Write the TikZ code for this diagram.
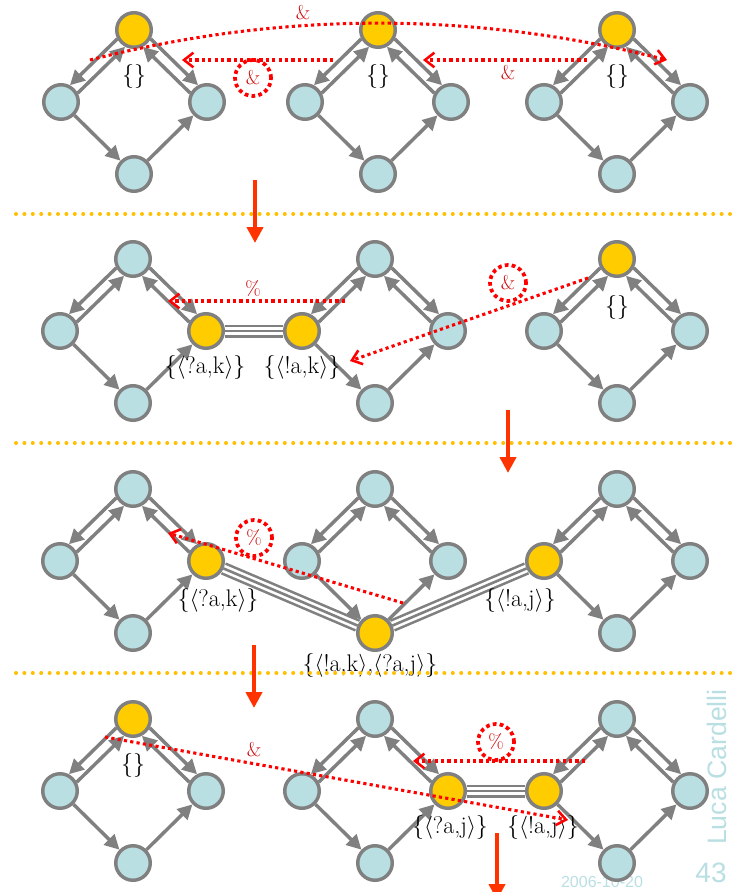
\documentclass[tikz,border=0pt]{standalone}
\usepackage{fontspec}
\usepackage{tikz}
\usetikzlibrary{arrows.meta,backgrounds,positioning}
\newfontfamily\wmfont{Liberation Sans}
\definecolor{ice}{RGB}{185,223,227}
\definecolor{gold}{RGB}{255,204,0}
\definecolor{rim}{RGB}{128,128,128}
\definecolor{msgred}{RGB}{255,0,0}
\definecolor{tagred}{RGB}{204,0,0}
\definecolor{flame}{RGB}{255,51,0}
\definecolor{sepgold}{RGB}{255,192,0}

\begin{document}
\begin{tikzpicture}[
  x=0.75pt,y=-0.75pt,
  site/.style={circle,draw=rim,line width=2.6pt,minimum size=25.9pt,inner sep=0pt},
  idle/.style={fill=ice},
  spot/.style={fill=gold},
  arr/.style={draw=rim,line width=2.6pt,-{Triangle[length=11pt,width=11pt]}},
  link/.style={draw=rim,line width=1.95pt,preaction={draw=rim,line width=9.75pt},preaction={draw=white,line width=5.85pt}},
  bag/.style={font=\fontsize{18}{21}\selectfont,inner sep=0pt},
  msg/.style={draw=msgred,line width=2.3pt,dash pattern=on 2.4pt off 2.4pt,-{Straight Barb[length=7pt,width=11pt,line width=1.9pt]}},
  ring/.style={circle,draw=msgred,line width=2.8pt,dash pattern=on 2.8pt off 2.4pt,minimum size=27pt,inner sep=0pt,text=tagred,font=\fontsize{15}{17}\selectfont},
  tag/.style={text=tagred,font=\fontsize{15}{17}\selectfont,inner sep=0pt},
  redux/.style={draw=flame,line width=3pt,-{Triangle[length=12pt,width=12pt]}},
  divider/.style={draw=sepgold,line width=3pt,line cap=round,dash pattern=on 0pt off 6.3pt},
  wm/.style={text=ice,inner sep=0pt},
]
\useasboundingbox (0,0) rectangle (732,892);

% Knoten der Rauten
\foreach \d/\x/\y/\sn/\sw/\se/\ss in {
  a1/134/30/spot/idle/idle/idle, b1/378/30/spot/idle/idle/idle, c1/617/30/spot/idle/idle/idle,
  a2/133/259/idle/idle/spot/idle, b2/375/259/idle/spot/idle/idle, c2/617/259/spot/idle/idle/idle,
  a3/133/489/idle/idle/spot/idle, b3/375/489/idle/idle/idle/spot, c3/617/489/idle/spot/idle/idle,
  a4/133/719/spot/idle/idle/idle, b4/375/719/idle/idle/spot/idle, c4/617/719/idle/spot/idle/idle}{
  \node[site,\sn] (n\d) at (\x,\y) {};
  \node[site,\sw] (w\d) at (\x-73,\y+72) {};
  \node[site,\se] (e\d) at (\x+73,\y+72) {};
  \node[site,\ss] (s\d) at (\x,\y+144) {};
}

% Kanten
\foreach \d in {a1,b1,c1,a2,b2,c2,a3,b3,c3,a4,b4,c4}{
  \draw[arr] (n\d.208) -- (w\d.62);
  \draw[arr] (w\d.28) -- (n\d.242);
  \draw[arr] (n\d.332) -- (e\d.118);
  \draw[arr] (e\d.152) -- (n\d.298);
  \draw[arr] (w\d) -- (s\d);
  \draw[arr] (s\d) -- (e\d);
}

% Verbindungen und Wasserzeichen
\begin{scope}[on background layer]
  \draw[link] (ea2) -- (wb2);
  \draw[link] (ea3) -- (sb3);
  \draw[link] (wc3) -- (sb3);
  \draw[link] (eb4) -- (wc4);
  \node[wm,rotate=90,font=\wmfont\fontsize{20}{24}\selectfont] (author) at (717,767) {Luca Cardelli};
  \node[wm,font=\wmfont\fontsize{21}{24}\selectfont] (page) at (711,873) {43};
  \node[wm,font=\wmfont\fontsize{12}{14}\selectfont] (date) at (602,882) {2006-10-20};
\end{scope}

% Mengen
\node[bag] (st1a) at (134,77) {\{\}};
\node[bag] (st1b) at (378,77) {\{\}};
\node[bag] (st1c) at (617,77) {\{\}};
\node[bag] (st2a) at (205,367) {\{$\langle$?a,k$\rangle$\}};
\node[bag] (st2b) at (302,367) {\{$\langle$!a,k$\rangle$\}};
\node[bag] (st2c) at (617,307) {\{\}};
\node[bag] (st3a) at (218,600) {\{$\langle$?a,k$\rangle$\}};
\node[bag] (st3b) at (370,665) {\{$\langle$!a,k$\rangle$,$\langle$?a,j$\rangle$\}};
\node[bag] (st3c) at (520,600) {\{$\langle$!a,j$\rangle$\}};
\node[bag] (st4a) at (133,765) {\{\}};
\node[bag] (st4b) at (450,827) {\{$\langle$?a,j$\rangle$\}};
\node[bag] (st4c) at (543,827) {\{$\langle$!a,j$\rangle$\}};

% Trennlinien und Schritte
\coordinate (d1a) at (16,214); \coordinate (d1b) at (732,214);
\coordinate (d2a) at (16,443); \coordinate (d2b) at (732,443);
\coordinate (d3a) at (16,673); \coordinate (d3b) at (732,673);
\draw[divider] (d1a) -- (d1b);
\draw[divider] (d2a) -- (d2b);
\draw[divider] (d3a) -- (d3b);
\coordinate (r1a) at (255,180); \coordinate (r1b) at (255,243);
\coordinate (r2a) at (508,410); \coordinate (r2b) at (508,473);
\coordinate (r3a) at (254,645); \coordinate (r3b) at (254,708);
\coordinate (r4a) at (497,833); \coordinate (r4b) at (497,900);
\draw[redux] (r1a) -- (r1b);
\draw[redux] (r2a) -- (r2b);
\draw[redux] (r3a) -- (r3b);
\draw[redux] (r4a) -- (r4b);

% Nachrichten
\coordinate (m1a) at (90,60);  \coordinate (m1b) at (667,60);
\coordinate (m1c) at (333,60); \coordinate (m1d) at (182,60);
\coordinate (m1e) at (587,60); \coordinate (m1f) at (423,60);
\coordinate (m2a) at (345,301); \coordinate (m2b) at (168,301);
\coordinate (m2c) at (588,278); \coordinate (m2d) at (350,361);
\coordinate (m3a) at (403,603); \coordinate (m3b) at (168,533);
\coordinate (m4a) at (105,737); \coordinate (m4b) at (568,820);
\coordinate (m4c) at (585,761); \coordinate (m4d) at (413,761);
\draw[msg] (m1a) .. controls (281,11) and (473,11) .. (m1b);
\draw[msg] (m1c) -- (m1d);
\draw[msg] (m1e) -- (m1f);
\draw[msg] (m2a) -- (m2b);
\draw[msg] (m2c) -- (m2d);
\draw[msg] (m3a) -- (m3b);
\draw[msg] (m4a) -- (m4b);
\draw[msg] (m4c) -- (m4d);
\node[ring] (q1) at (253,78) {\&};
\node[ring] (q2) at (508,283) {\&};
\node[ring] (q3) at (254,538) {\%};
\node[ring] (q4) at (496,742) {\%};
\node[tag] (t1a) at (303,13) {\&};
\node[tag] (t1b) at (508,73) {\&};
\node[tag] (t2) at (253,289) {\%};
\node[tag] (t4) at (254,750) {\&};
\end{tikzpicture}
\end{document}
